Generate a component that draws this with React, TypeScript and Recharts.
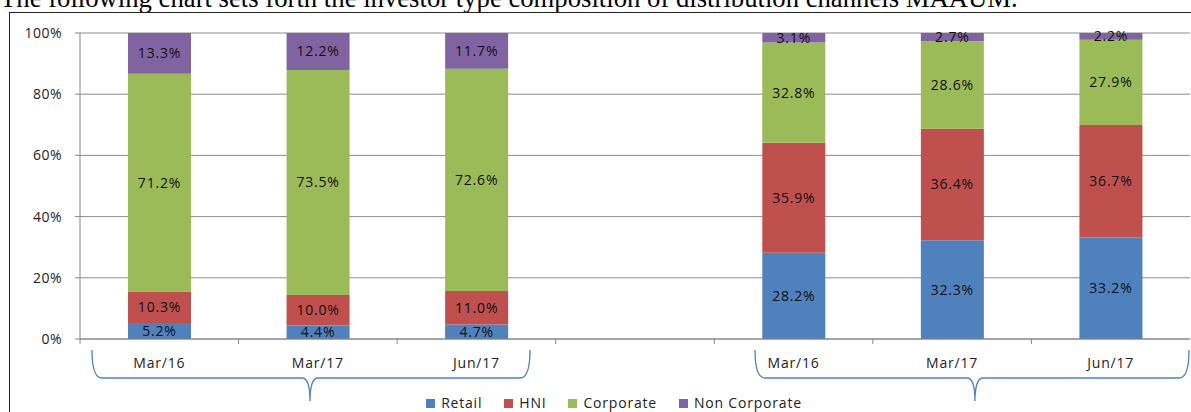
import React from 'react';
import { BarChart, Bar, XAxis, YAxis, CartesianGrid, LabelList } from 'recharts';

const categories = ['Mar/16', 'Mar/17', 'Jun/17', '', 'Mar/16', 'Mar/17', 'Jun/17'];
const retail = [5.2, 4.4, 4.7, null, 28.2, 32.3, 33.2];
const hni = [10.3, 10.0, 11.0, null, 35.9, 36.4, 36.7];
const corporate = [71.2, 73.5, 72.6, null, 32.8, 28.6, 27.9];
const nonCorporate = [13.3, 12.2, 11.7, null, 3.1, 2.7, 2.2];
const yTicks = [0, 20, 40, 60, 80, 100];

const seriesInfo = [
  { key: 'retail', name: 'Retail', color: '#4f81bd' },
  { key: 'hni', name: 'HNI', color: '#c0504d' },
  { key: 'corporate', name: 'Corporate', color: '#9bbb59' },
  { key: 'nonCorporate', name: 'Non Corporate', color: '#8064a2' },
];

const data = categories.map((c, i) => ({
  id: i,
  label: c,
  retail: retail[i],
  hni: hni[i],
  corporate: corporate[i],
  nonCorporate: nonCorporate[i],
}));

const W = 1191;
const H = 412;
const PLOT_LEFT = 80;
const PLOT_RIGHT = 1190;
const SLOT = (PLOT_RIGHT - PLOT_LEFT) / categories.length;
const FONT = '"Open Sans", sans-serif';

const XTick = (props: any) => {
  const { x, y, payload } = props;
  const bx = x - SLOT / 2;
  return (
    <g>
      <line x1={bx} y1={y - 8} x2={bx} y2={y - 3} stroke="#868686" />
      <text x={x} y={y + 21} textAnchor="middle" fontSize={14} letterSpacing={0.8} fill="#222" fontFamily={FONT}>
        {categories[payload.value]}
      </text>
    </g>
  );
};

const fmt = (v: any) => (v == null ? '' : `${Number(v).toFixed(1)}%`);

const brace = (l: number, c: number, r: number) =>
  `M ${l} 350 Q ${l} 378 ${l + 10} 378 L ${c - 8} 378 Q ${c} 378 ${c} 401 Q ${c} 378 ${c + 8} 378 L ${r - 10} 378 Q ${r} 378 ${r} 350`;

export default function App() {
  return (
    <div style={{ position: 'fixed', left: 0, top: 0, width: W, height: H, overflow: 'hidden', background: '#fff' }}>
      <div
        style={{
          position: 'absolute',
          left: 0,
          top: -15,
          fontFamily: '"Liberation Serif", serif',
          fontSize: 26.7,
          lineHeight: '26px',
          whiteSpace: 'nowrap',
          color: '#000',
        }}
      >
        The following chart sets forth the investor type composition of distribution channels MAAUM.
      </div>
      <div
        style={{
          position: 'absolute',
          left: 9,
          top: 12,
          width: 1250,
          height: 450,
          border: '1.5px solid #222',
        }}
      />
      <div style={{ position: 'absolute', left: 0, top: 0 }}>
        <BarChart width={W} height={H} data={data} margin={{ top: 33, right: W - PLOT_RIGHT, left: 10, bottom: 33 }} barSize={63}>
          <CartesianGrid vertical={false} stroke="#8c8c8c" />
          <XAxis
            dataKey="id"
            height={40}
            tick={<XTick />}
            tickLine={false}
            axisLine={{ stroke: '#868686' }}
            interval={0}
          />
          <YAxis
            width={70}
            domain={[0, 100]}
            ticks={yTicks}
            allowDataOverflow
            tickFormatter={(v: number) => `${v}%`}
            tick={{ fontSize: 14, fill: '#222', fontFamily: FONT, letterSpacing: 0.5 }}
            tickLine={{ stroke: '#868686' }}
            tickSize={5}
            tickMargin={13}
            axisLine={{ stroke: '#868686' }}
          />
          {seriesInfo.map((s) => (
            <Bar key={s.key} dataKey={s.key} name={s.name} stackId="a" fill={s.color} isAnimationActive={false}>
              <LabelList
                dataKey={s.key}
                position="center"
                formatter={fmt}
                fontSize={14}
                letterSpacing={0.8}
                fill="#111"
                fontFamily={FONT}
              />
            </Bar>
          ))}
        </BarChart>
      </div>
      <svg style={{ position: 'absolute', left: 0, top: 0 }} width={W} height={H}>
        <path d={brace(92, 310, 530)} fill="none" stroke="#4f81bd" strokeWidth={1.3} />
        <path d={brace(755, 975, 1189)} fill="none" stroke="#4f81bd" strokeWidth={1.3} />
      </svg>
      <div
        style={{
          position: 'absolute',
          left: 0,
          top: 394,
          width: 1228,
          display: 'flex',
          justifyContent: 'center',
          gap: 22,
          fontFamily: FONT,
          fontSize: 14,
          letterSpacing: 0.8,
          lineHeight: '18px',
          color: '#222',
        }}
      >
        {seriesInfo.map((s) => (
          <div key={s.key} style={{ display: 'flex', alignItems: 'center' }}>
            <span style={{ width: 9, height: 9, background: s.color, display: 'inline-block', marginRight: 6 }} />
            {s.name}
          </div>
        ))}
      </div>
    </div>
  );
}
